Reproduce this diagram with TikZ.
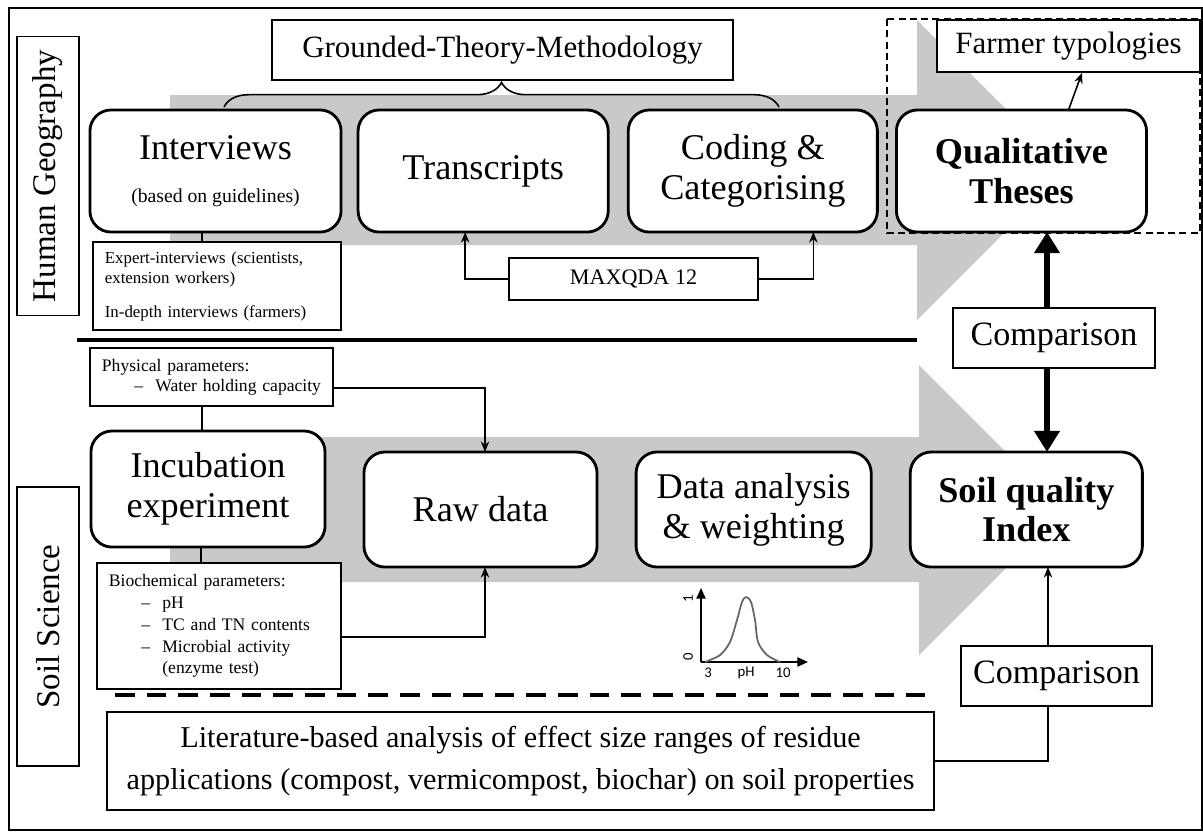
\documentclass[tikz,border=0pt]{standalone}
\usepackage{fontspec}
\setmainfont{Liberation Serif}
\newfontfamily\plotfont{Carlito}
\usetikzlibrary{
    arrows.meta,
    calc,
    decorations.pathreplacing,
    positioning
}
\definecolor{flowgray}{RGB}{201,201,201}
\newcommand{\stagefont}{\fontsize{10.3}{11.3}\selectfont}
\newcommand{\subfont}{\fontsize{5.6}{6.5}\selectfont}
\newcommand{\notefont}{\fontsize{5}{5.7}\selectfont}
\newcommand{\itm}{\hspace*{9.2pt}\makebox[6pt][l]{–}}
\tikzset{
    every picture/.style = {
        > = Stealth,
        x = 0.01cm,
        y = -0.01cm
    },
    stage/.style = {
        draw,
        rounded corners = 6pt,
        line width = 0.8pt,
        fill = white,
        align = center,
        inner sep = 1pt,
        outer sep = 0pt,
        minimum height = 1.22cm,
        font = \stagefont
    },
    note/.style = {
        draw,
        line width = 0.45pt,
        fill = white,
        align = left,
        inner xsep = 3.4pt,
        inner ysep = 1pt,
        font = \notefont
    },
    plain box/.style = {
        draw,
        line width = 0.45pt,
        fill = white,
        align = center,
        inner sep = 1pt
    },
    discipline/.style = {
        draw,
        line width = 0.45pt,
        rotate = 90,
        minimum width = 2.79cm,
        minimum height = 0.62cm,
        font = \fontsize{9.4}{11}\selectfont
    },
    link/.style = {line width = 0.45pt, -{Stealth[length=3pt, width=2.4pt]}},
    tie/.style = {line width = 0.45pt},
    bigarrow/.style = {line width = 1.8pt, -{Triangle[length=6pt, width=7pt]}},
    frame dashed/.style = {line width = 0.4pt, dash pattern = on 2pt off 1.2pt},
    axis/.style = {line width = 0.45pt, -{Triangle[length=3pt, width=2.6pt]}},
    ticklabel/.style = {inner sep = 0pt, font = \plotfont\fontsize{4.2}{5}\selectfont}
}

\begin{document}
\begin{tikzpicture}
    \useasboundingbox (0,0) rectangle (1203,832);
    \draw[line width = 0.5pt] (9,8) rectangle (1202,830);

    % grey flow arrows behind both strands
    \fill[flowgray] (170,95) -- (917,95) -- (917,20) -- (1067,170) -- (917,320) -- (917,245) -- (170,245) -- cycle;
    \fill[flowgray] (170,437) -- (919,437) -- (919,365) -- (1064,510) -- (919,655) -- (919,582) -- (170,582) -- cycle;

    \node[discipline] (geo) at (48,176) {Human Geography};
    \node[discipline] (soil) at (48,626.5) {Soil Science};

    % human geography strand
    \node[plain box, minimum width=4.61cm, minimum height=0.6cm, font=\fontsize{8.8}{10}\selectfont] (gtm) at (502.5,50) {Grounded-Theory-Methodology};
    \draw[line width=0.45pt, decorate, decoration={brace, amplitude=7pt}] (224,107) -- (779,107);

    \node[stage, minimum width=2.51cm] (interviews) at (215.5,171) {Interviews\\[1pt]{\subfont(based on guidelines)}};
    \node[stage, minimum width=2.50cm, right=0.17cm of interviews] (transcripts) {Transcripts};
    \node[stage, minimum width=2.49cm, right=0.20cm of transcripts] (coding) {Coding \&\\Categorising};
    \node[stage, minimum width=2.50cm, right=0.19cm of coding, font=\stagefont\bfseries] (theses) {Qualitative\\Theses};

    \draw[frame dashed] (887,19) rectangle (1200,233);
    \node[plain box, minimum width=2.63cm, minimum height=0.52cm, font=\fontsize{8.8}{10}\selectfont] (typologies) at (1068.5,46) {Farmer typologies};
    \draw[link] ([xshift=0.47cm]theses.north) -- ([xshift=0.135cm]typologies.south);

    \node[note, text width=63.8pt, minimum height=0.88cm, font=\fontsize{4.8}{5.7}\selectfont] (experts) at (217,286) {Expert-interviews (scientists,\\extension workers)\\[4pt]In-depth interviews (farmers)};
    \draw[tie] ([xshift=-0.135cm]interviews.south) -- ([xshift=-0.135cm]interviews.south |- experts.north);

    \node[plain box, minimum width=2.49cm, minimum height=0.42cm, font=\fontsize{6.3}{7}\selectfont] (maxqda) at (633.5,279) {MAXQDA 12};
    \draw[link] (maxqda.west) -| ([xshift=-0.18cm]transcripts.south);
    \draw[link] (maxqda.east) -| ([xshift=0.605cm]coding.south);

    \draw[line width=1.3pt] (77,340) -- (917,340);

    % soil science strand
    \node[stage, minimum width=2.34cm, minimum height=1.16cm] (incubation) at (208,489) {Incubation\\experiment};
    \node[stage, minimum width=2.33cm, minimum height=1.15cm] (rawdata) at (480.5,509.5) {Raw data};
    \node[stage, minimum width=2.35cm, minimum height=1.15cm, right=0.39cm of rawdata] (analysis) {Data analysis\\\& weighting};
    \node[stage, minimum width=2.32cm, minimum height=1.15cm, right=0.39cm of analysis, font=\stagefont\bfseries] (index) {Soil quality\\Index};

    \node[note, text width=62.3pt, minimum height=0.58cm] (physical) at (211.5,377) {Physical parameters:\\\itm Water holding capacity};
    \node[note, text width=62.6pt, minimum height=1.26cm, font=\fontsize{5}{6.2}\selectfont] (biochem) at (219,626) {Biochemical parameters:\\\itm pH\\\itm TC and TN contents\\\itm Microbial activity\\\hspace*{15.2pt}(enzyme test)};

    \draw[tie] ([xshift=-0.095cm]physical.south) -- ([xshift=-0.095cm]physical.south |- incubation.north);
    \draw[link] ([yshift=-0.11cm]physical.east) -| ([xshift=0.045cm]rawdata.north);
    \draw[tie] ([xshift=-0.07cm]incubation.south) -- ([xshift=-0.07cm]incubation.south |- biochem.north);
    \draw[link] ([yshift=-0.11cm]biochem.east) -| ([xshift=0.045cm]rawdata.south);

    \draw[line width=1.4pt, dash pattern=on 5.6pt off 3.4pt] (115,695) -- (925,695);

    % comparisons
    \node[plain box, minimum width=2.02cm, minimum height=0.6cm, font=\fontsize{9.7}{11}\selectfont] (cmpup) at (1054,338) {Comparison};
    \draw[bigarrow] ([xshift=-0.07cm]cmpup.north) -- ([xshift=-0.07cm]cmpup.north |- theses.south);
    \draw[bigarrow] ([xshift=-0.07cm]cmpup.south) -- ([xshift=-0.07cm]cmpup.south |- index.north);

    \node[plain box, minimum width=1.91cm, minimum height=0.6cm, font=\fontsize{9.7}{11}\selectfont] (cmplow) at (1056.5,676) {Comparison};
    \node[plain box, minimum width=8.27cm, minimum height=0.98cm, font=\fontsize{8.6}{11.9}\selectfont] (literature) at (520.5,761) {Literature-based analysis of effect size ranges of residue\\applications (compost, vermicompost, biochar) on soil properties};
    \draw[tie] (literature.east) -| ([xshift=-0.085cm]cmplow.south);
    \draw[link] ([xshift=-0.085cm]cmplow.north) -- ([xshift=-0.085cm]cmplow.north |- index.south);

    % weighting curve
    \coordinate (origin) at (701,662);
    \draw[axis] (origin) -- (701,588);
    \draw[axis] (origin) -- (808,662);
    \draw[black!60, line width=0.5pt] plot[smooth] coordinates {(705,662) (720,655) (730,642) (737,620) (742,602) (746,597) (751,602) (755,620) (758,642) (767,655) (780,662)};
    \node[ticklabel, rotate=90] (one) at (688,599) {1};
    \node[ticklabel, rotate=90] (zero) at (688,657) {0};
    \node[ticklabel] (three) at (708,673) {3};
    \node[ticklabel] (phlabel) at (746,673) {pH};
    \node[ticklabel] (ten) at (783,673) {10};
\end{tikzpicture}
\end{document}
